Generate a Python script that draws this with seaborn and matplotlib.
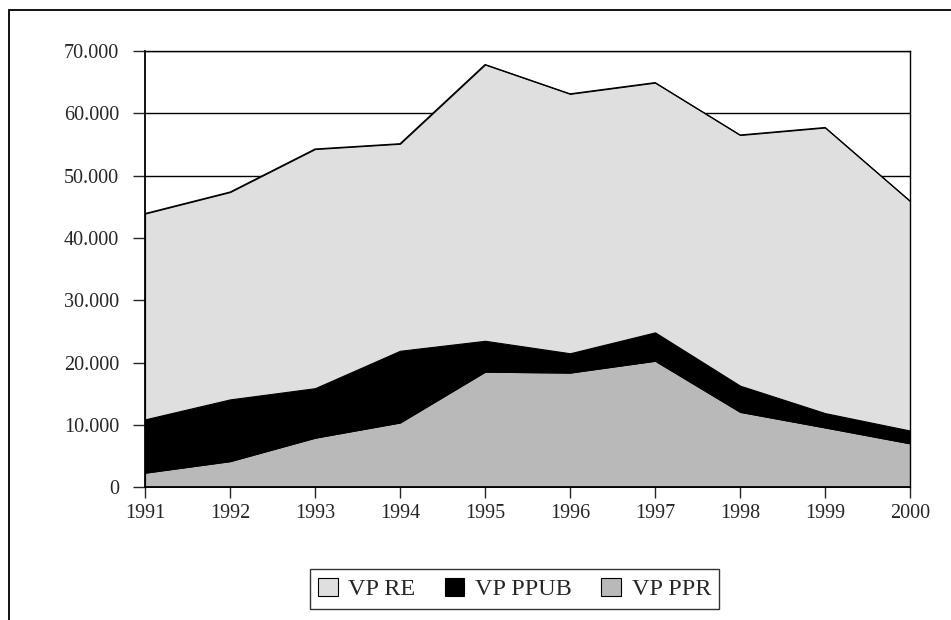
import numpy as np
import pandas as pd
import seaborn as sns
import matplotlib.pyplot as plt
from matplotlib.patches import Rectangle
from matplotlib.ticker import FuncFormatter

#################################################################################

years = [1991, 1992, 1993, 1994, 1995, 1996, 1997, 1998, 1999, 2000]

# stacked from bottom to top
vp_ppr = [2350, 4200, 7960, 10400, 18550, 18400, 20300, 12100, 9600, 7050]
vp_ppub = [8550, 9900, 7940, 11500, 4950, 3100, 4550, 4200, 2300, 2050]
vp_re = [33000, 33250, 38350, 33200, 44300, 41600, 40050, 40200, 45800, 36800]

series_names = ["VP PPR", "VP PPUB", "VP RE"]
colors = {"VP PPR": "#b9b9b9", "VP PPUB": "#000000", "VP RE": "#dfdfdf"}

#################################################################################

df = pd.DataFrame({"year": years, "VP PPR": vp_ppr, "VP PPUB": vp_ppub, "VP RE": vp_re})
df["total"] = df[series_names].sum(axis=1)

sns.set_theme(style="white")
plt.rcParams["font.family"] = ["Liberation Serif", "DejaVu Serif"]
plt.rcParams["font.size"] = 14.5

fig = plt.figure(figsize=(9.51, 6.20), dpi=100)
ax = fig.add_axes([0.1525, 0.214, 0.8045, 0.704])

# outer chart frame (only left/top visible in the reference)
fig.patches.append(Rectangle((9 / 951, -0.05), 1.2, 1 - 10 / 620 + 0.05,
                             transform=fig.transFigure, fill=False,
                             edgecolor="black", linewidth=1.3))

# gridlines behind the areas
for v in range(10000, 80000, 10000):
    ax.axhline(v, color="black", linewidth=1.0, zorder=0)

ax.stackplot(df["year"], [df[s] for s in series_names],
             colors=[colors[s] for s in series_names],
             labels=series_names, zorder=1)

# thin outline on the top of the stack
sns.lineplot(data=df, x="year", y="total", color="black", linewidth=0.9,
             ax=ax, zorder=2, legend=False)
if ax.get_legend() is not None:
    ax.get_legend().remove()

ax.set_xlim(1991, 2000)
ax.set_ylim(0, 70000)
ax.set_xticks(years)
ax.set_yticks(range(0, 80000, 10000))
ax.yaxis.set_major_formatter(FuncFormatter(lambda v, p: f"{int(v):,}".replace(",", ".")))
ax.set_xlabel("")
ax.set_ylabel("")

for side in ["left", "bottom", "right", "top"]:
    ax.spines[side].set_color("black")
    ax.spines[side].set_linewidth(1.0)
ax.spines["left"].set_linewidth(1.3)
ax.spines["bottom"].set_linewidth(1.3)

ax.tick_params(axis="y", direction="out", length=8.5, width=1.0, pad=10, left=True, labelsize=14.5)
ax.tick_params(axis="x", direction="out", length=8, width=1.0, pad=4, bottom=True, labelsize=14.5)

# legend order: top series first
handles, labels = ax.get_legend_handles_labels()
order = [labels.index(n) for n in ["VP RE", "VP PPUB", "VP PPR"]]
for h in handles:
    h.set_edgecolor("black")
    h.set_linewidth(0.8)
leg = fig.legend([handles[i] for i in order], [labels[i] for i in order],
                 loc="center", bbox_to_anchor=(0.541, 0.05), ncol=3,
                 frameon=True, fancybox=False, edgecolor="black",
                 handlelength=0.8, handleheight=0.75, handletextpad=0.45,
                 columnspacing=1.2, borderpad=0.35, borderaxespad=0,
                 fontsize=17.5)
leg.get_frame().set_linewidth(1.0)

fig.savefig("out.png", dpi=100)
plt.close()
